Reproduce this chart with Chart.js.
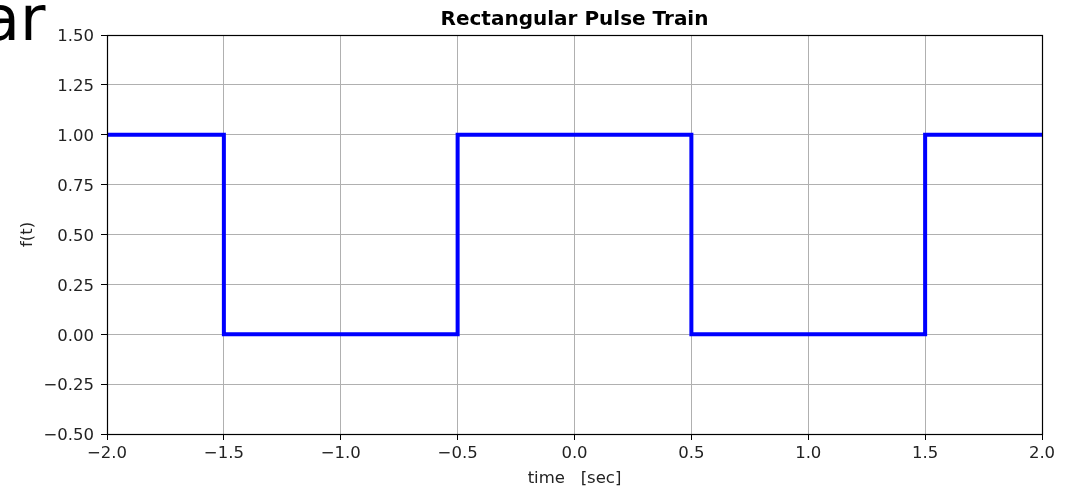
<!DOCTYPE html>
<html>
<head>
<meta charset="utf-8">
<style>
  html, body { margin: 0; padding: 0; background: #ffffff; }
  canvas { display: block; }
</style>
<script src="https://cdn.jsdelivr.net/npm/chart.js@4.4.1/dist/chart.umd.min.js"></script>
</head>
<body>
<canvas id="pulse" width="1065" height="488"></canvas>
<script>
// Rectangular pulse train: period 2 s, pulse width 1 s, centred on t = 0
const timeSec = [-2.0, -1.5, -1.5, -0.5, -0.5, 0.5, 0.5, 1.5, 1.5, 2.0];
const amplitude = [1, 1, 0, 0, 1, 1, 0, 0, 1, 1];

const xTicks = [-2.0, -1.5, -1.0, -0.5, 0.0, 0.5, 1.0, 1.5, 2.0];
const yTicks = [-0.50, -0.25, 0.00, 0.25, 0.50, 0.75, 1.00, 1.25, 1.50];

const titleText = 'Rectangular Pulse Train';
const xLabel = 'time   [sec]';
const yLabel = 'f(t)';
const cornerText = 'ar';

const FONT = '"DejaVu Sans", sans-serif';
const minus = v => v.replace('-', '\u2212');

const points = timeSec.map((t, i) => ({ x: t, y: amplitude[i] }));

const decorations = {
  id: 'decorations',
  afterDatasetsDraw(chart) {
    const { ctx, chartArea: a } = chart;
    ctx.save();
    // axes frame
    ctx.strokeStyle = '#000';
    ctx.lineWidth = 1.2;
    ctx.strokeRect(Math.round(a.left) + 0.5, Math.round(a.top) + 0.5,
                   Math.round(a.right - a.left), Math.round(a.bottom - a.top));
    ctx.restore();
  },
  afterDraw(chart) {
    const { ctx, chartArea: a } = chart;
    ctx.save();
    ctx.fillStyle = '#000';
    // title
    ctx.font = 'bold 20px ' + FONT;
    ctx.textAlign = 'center';
    ctx.textBaseline = 'alphabetic';
    ctx.fillText(titleText, (a.left + a.right) / 2, 25);
    // x label
    ctx.fillStyle = '#222';
    ctx.font = '16.5px ' + FONT;
    ctx.fillText(xLabel, (a.left + a.right) / 2, 483);
    // y label
    ctx.save();
    ctx.translate(32, (a.top + a.bottom) / 2);
    ctx.rotate(-Math.PI / 2);
    ctx.fillText(yLabel, 0, 0);
    ctx.restore();
    // large heading fragment at the corner
    ctx.fillStyle = '#000';
    ctx.font = '62px ' + FONT;
    ctx.textAlign = 'left';
    ctx.fillText(cornerText, -18, 40);
    ctx.restore();
  }
};

const tickFont = { family: FONT, size: 16.5 };

new Chart(document.getElementById('pulse'), {
  type: 'line',
  data: {
    datasets: [{
      data: points,
      borderColor: '#0000ff',
      borderWidth: 4,
      pointRadius: 0,
      tension: 0,
      borderJoinStyle: 'miter',
      fill: false
    }]
  },
  options: {
    responsive: false,
    animation: false,
    devicePixelRatio: 1,
    layout: { padding: { top: 35, right: 23, left: 0, bottom: 0 } },
    plugins: { legend: { display: false }, title: { display: false }, tooltip: { enabled: false } },
    scales: {
      x: {
        type: 'linear',
        min: xTicks[0],
        max: xTicks[xTicks.length - 1],
        afterBuildTicks: s => { s.ticks = xTicks.map(v => ({ value: v })); },
        afterFit: s => { s.height = 54; },
        ticks: {
          font: tickFont, color: '#222', padding: 4, maxRotation: 0, autoSkip: false,
          callback: v => minus(Number(v).toFixed(1))
        },
        grid: { color: '#b0b0b0', lineWidth: 1, tickColor: '#000', tickLength: 6, drawTicks: true },
        border: { color: '#000', width: 1 }
      },
      y: {
        type: 'linear',
        min: yTicks[0],
        max: yTicks[yTicks.length - 1],
        afterBuildTicks: s => { s.ticks = yTicks.map(v => ({ value: v })); },
        afterFit: s => { s.width = 107; },
        ticks: {
          font: tickFont, color: '#222', padding: 7, autoSkip: false, labelOffset: 2,
          callback: v => minus(Number(v).toFixed(2))
        },
        grid: { color: '#b0b0b0', lineWidth: 1, tickColor: '#000', tickLength: 6, drawTicks: true },
        border: { color: '#000', width: 1 }
      }
    }
  },
  plugins: [decorations]
});
</script>
</body>
</html>
